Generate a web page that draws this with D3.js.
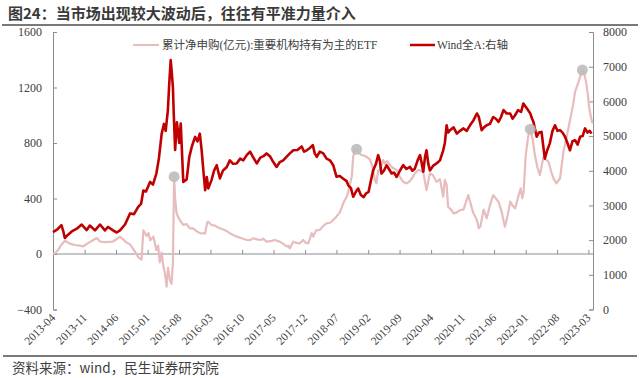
<!DOCTYPE html>
<html><head><meta charset="utf-8">
<script src="https://cdn.jsdelivr.net/npm/d3@7"></script>
<style>
html,body{margin:0;padding:0;background:#fff;}
svg{display:block;}
</style></head>
<body>
<svg id="chart" width="640" height="378"></svg>
<script>
const titleText = "图24：当市场出现较大波动后，往往有平准力量介入";
const sourceText = "资料来源：wind，民生证券研究院";
const seriesNames = ["累计净申购(亿元):重要机构持有为主的ETF", "Wind全A:右轴"];
const leftTicks = [-400, 0, 400, 800, 1200, 1600];
const rightTicks = [0, 1000, 2000, 3000, 4000, 5000, 6000, 7000, 8000];
const xTickLabels = ["2013-04","2013-11","2014-06","2015-01","2015-08","2016-03","2016-10","2017-05","2017-12","2018-07","2019-02","2019-09","2020-04","2020-11","2021-06","2022-01","2022-08","2023-03"];
const markerDates = ["2015-06-29","2018-11-14","2022-02-01","2023-01-19"];

// 累计净申购(亿元) — left axis
const etfSeries = [
["2013-04-01",0],["2013-04-20",10],["2013-05-06",30],["2013-05-24",60],["2013-06-20",95],["2013-07-24",75],["2013-08-27",65],["2013-10-01",60],["2013-10-22",55],["2013-11-18",75],["2013-12-21",95],
["2014-01-22",115],["2014-02-13",90],["2014-03-18",85],["2014-04-21",88],["2014-05-12",90],["2014-06-15",115],["2014-06-28",125],["2014-07-25",100],["2014-08-12",82],["2014-09-04",70],["2014-10-07",17],["2014-10-28",-20],["2014-11-10",-35],["2014-11-21",-40],["2014-12-03",170],["2014-12-25",130],
["2015-01-07",150],["2015-01-18",100],["2015-02-09",125],["2015-02-21",70],["2015-03-01",29],["2015-03-13",60],["2015-03-24",-60],["2015-04-06",10],["2015-04-16",-80],["2015-04-28",-140],["2015-05-09",-235],["2015-05-19",-100],["2015-06-01",-190],["2015-06-12",-215],["2015-06-21",-60],["2015-06-29",557],["2015-07-06",400],["2015-07-16",293],["2015-07-25",270],["2015-08-06",245],["2015-08-30",210],["2015-09-22",215],["2015-10-13",185],["2015-11-05",185],["2015-11-28",165],["2015-12-20",150],
["2016-01-25",149],["2016-02-07",225],["2016-02-15",233],["2016-03-08",209],["2016-04-01",205],["2016-04-22",190],["2016-05-18",180],["2016-06-18",165],["2016-07-10",150],["2016-08-02",137],["2016-08-27",125],["2016-09-28",113],["2016-11-01",101],["2016-11-24",100],["2016-12-16",113],
["2017-01-10",105],["2017-02-01",101],["2017-02-21",110],["2017-03-15",89],["2017-04-18",95],["2017-05-10",101],["2017-06-13",89],["2017-07-04",75],["2017-07-28",55],["2017-08-09",60],["2017-08-20",41],["2017-09-12",89],["2017-10-03",80],["2017-10-27",77],["2017-11-18",101],["2017-12-06",80],["2017-12-22",77],
["2018-01-15",150],["2018-01-25",125],["2018-02-13",170],["2018-03-10",173],["2018-04-01",200],["2018-04-25",221],["2018-05-18",225],["2018-06-09",245],["2018-07-01",269],["2018-07-24",300],["2018-08-16",365],["2018-09-08",413],["2018-09-19",450],["2018-10-13",560],["2018-10-22",700],["2018-11-03",750],["2018-11-14",755],["2018-11-25",740],["2018-12-13",715],
["2019-01-01",710],["2019-01-22",700],["2019-02-13",680],["2019-03-04",620],["2019-03-18",530],["2019-03-28",509],["2019-04-09",600],["2019-04-20",605],["2019-05-13",677],["2019-05-24",653],["2019-06-10",670],["2019-06-28",641],["2019-07-18",620],["2019-08-12",605],["2019-09-03",557],["2019-09-25",520],["2019-10-18",509],["2019-11-04",520],["2019-11-21",540],["2019-12-13",580],
["2020-01-06",605],["2020-01-24",600],["2020-02-08",590],["2020-03-01",461],["2020-03-24",581],["2020-04-13",570],["2020-05-08",520],["2020-05-31",540],["2020-06-22",413],["2020-07-03",535],["2020-07-15",500],["2020-07-25",341],["2020-08-14",320],["2020-08-31",293],["2020-09-22",300],["2020-10-14",317],["2020-11-06",320],["2020-11-28",390],["2020-12-09",425],["2020-12-20",380],
["2021-01-10",300],["2021-02-05",245],["2021-02-17",185],["2021-03-01",200],["2021-03-22",320],["2021-04-12",257],["2021-05-04",350],["2021-05-26",425],["2021-06-13",400],["2021-07-01",377],["2021-07-22",305],["2021-08-13",197],["2021-09-01",280],["2021-09-18",377],["2021-10-04",350],["2021-10-21",329],["2021-11-08",400],["2021-11-28",473],["2021-12-09",401],["2021-12-18",450],
["2022-01-01",713],["2022-01-19",857],["2022-02-01",900],["2022-02-18",820],["2022-03-04",713],["2022-03-22",620],["2022-04-07",569],["2022-04-30",695],["2022-05-18",680],["2022-06-04",665],["2022-06-21",600],["2022-07-07",545],["2022-07-28",509],["2022-08-21",545],["2022-09-13",737],["2022-10-06",850],["2022-10-27",960],["2022-11-18",1080],["2022-12-01",1170],["2022-12-13",1206],["2022-12-25",1242],
["2023-01-07",1290],["2023-01-19",1326],["2023-02-01",1300],["2023-02-13",1240],["2023-02-25",1150],["2023-03-07",1050],["2023-03-19",980],["2023-03-28",940]
];

// Wind全A — right axis
const windSeries = [
["2013-04-01",2230],["2013-04-28",2300],["2013-05-28",2430],["2013-06-10",2250],["2013-06-20",2060],["2013-07-10",2150],["2013-08-06",2250],["2013-09-09",2330],["2013-10-12",2450],["2013-11-15",2290],["2013-12-06",2420],
["2014-01-10",2280],["2014-02-13",2450],["2014-03-18",2280],["2014-04-09",2380],["2014-05-12",2280],["2014-06-06",2220],["2014-06-28",2280],["2014-08-01",2450],["2014-09-04",2770],["2014-10-01",2750],["2014-10-28",2950],["2014-11-18",3050],["2014-12-03",3430],["2014-12-21",3400],
["2015-01-18",3680],["2015-02-06",3600],["2015-03-01",3920],["2015-03-18",4350],["2015-04-06",5070],["2015-04-21",5350],["2015-05-03",5150],["2015-05-18",5750],["2015-05-27",6500],["2015-06-06",7190],["2015-06-12",6900],["2015-06-21",6400],["2015-06-27",5600],["2015-07-06",4600],["2015-07-18",5400],["2015-08-03",4800],["2015-08-13",5360],["2015-08-30",3680],["2015-09-22",3750],["2015-10-10",4400],["2015-10-27",4700],["2015-11-18",4976],["2015-12-04",4850],["2015-12-20",5070],
["2016-01-01",4600],["2016-01-13",4000],["2016-01-25",3440],["2016-02-05",3820],["2016-02-15",3490],["2016-03-08",3730],["2016-03-25",4000],["2016-04-12",4160],["2016-05-04",3780],["2016-05-25",4010],["2016-06-18",4100],["2016-07-10",4300],["2016-08-01",4200],["2016-08-25",4210],["2016-09-18",4350],["2016-10-09",4300],["2016-11-01",4450],["2016-11-24",4550],["2016-12-13",4400],
["2017-01-08",4210],["2017-02-01",4380],["2017-02-22",4420],["2017-03-15",4500],["2017-04-07",4420],["2017-04-30",4250],["2017-05-22",4110],["2017-06-13",4250],["2017-07-06",4300],["2017-07-28",4400],["2017-08-20",4500],["2017-09-12",4590],["2017-10-10",4600],["2017-11-08",4700],["2017-11-24",4550],["2017-12-12",4590],
["2018-01-01",4650],["2018-01-22",4740],["2018-02-04",4500],["2018-02-18",4400],["2018-03-10",4550],["2018-04-03",4500],["2018-04-25",4350],["2018-05-18",4300],["2018-06-09",4160],["2018-07-01",3830],["2018-07-24",3850],["2018-08-16",3770],["2018-09-08",3700],["2018-09-19",3580],["2018-10-07",3500],["2018-10-22",3250],["2018-11-10",3400],["2018-11-25",3490],["2018-12-13",3300],
["2019-01-01",3240],["2019-01-18",3350],["2019-02-03",3390],["2019-02-18",3700],["2019-03-06",4010],["2019-03-25",4200],["2019-04-09",4450],["2019-04-20",4300],["2019-05-01",3920],["2019-05-18",4000],["2019-06-05",4160],["2019-06-21",4050],["2019-07-09",3920],["2019-07-25",3950],["2019-08-12",3820],["2019-09-03",4000],["2019-09-25",4160],["2019-10-18",4050],["2019-11-10",4110],["2019-11-27",4000],["2019-12-13",4060],
["2020-01-01",4300],["2020-01-17",4450],["2020-01-27",4250],["2020-02-08",3970],["2020-02-20",4400],["2020-03-01",4590],["2020-03-13",4200],["2020-03-24",4010],["2020-04-16",4150],["2020-05-08",4210],["2020-05-31",4300],["2020-06-22",4590],["2020-07-03",4800],["2020-07-15",5310],["2020-07-25",5100],["2020-08-07",5170],["2020-08-31",5250],["2020-09-22",5070],["2020-10-14",5150],["2020-11-06",5220],["2020-11-28",5150],["2020-12-20",5310],
["2021-01-12",5450],["2021-02-05",5650],["2021-02-18",5550],["2021-03-09",5170],["2021-03-25",5250],["2021-04-12",5310],["2021-05-04",5350],["2021-05-26",5550],["2021-06-13",5500],["2021-07-01",5410],["2021-07-18",5550],["2021-08-04",5750],["2021-08-26",5650],["2021-09-18",5650],["2021-10-04",5500],["2021-10-21",5600],["2021-11-10",5750],["2021-12-01",5700],["2021-12-16",5940],
["2022-01-08",5800],["2022-02-01",5650],["2022-02-13",5500],["2022-02-22",5410],["2022-03-16",4980],["2022-03-31",5100],["2022-04-18",5120],["2022-04-30",4700],["2022-05-10",4350],["2022-05-27",4600],["2022-06-13",4790],["2022-07-01",5150],["2022-07-18",5310],["2022-08-04",5150],["2022-08-21",5170],["2022-09-07",5100],["2022-09-24",4980],["2022-10-10",4800],["2022-10-27",4590],["2022-11-13",4850],["2022-12-01",4880],["2022-12-18",4750],
["2023-01-04",4980],["2023-01-21",5000],["2023-02-06",5220],["2023-02-23",5100],["2023-03-10",5150],["2023-03-22",5070]
];

const parse = d3.timeParse("%Y-%m-%d");
const parseMonth = d3.timeParse("%Y-%m");
const etf = etfSeries.map(d => ({date: parse(d[0]), value: d[1]}));
const wind = windSeries.map(d => ({date: parse(d[0]), value: d[1]}));

const svg = d3.select("#chart");
const L = 53, R = 593, T = 32, B = 309.5;

const x = d3.scaleTime().domain([parse("2013-04-01"), parse("2023-04-01")]).range([L, R]);
const yL = d3.scaleLinear().domain([-400, 1600]).range([B, T]);
const yR = d3.scaleLinear().domain([0, 8000]).range([B, T]);

const axisColor = "#8c8c8c";
const textColor = "#404040";
const serif = "'Liberation Serif','Times New Roman','Noto Sans CJK SC',serif";
const sans = "'Noto Sans CJK SC','Microsoft YaHei',sans-serif";

// Title
svg.append("text").attr("x", 8).attr("y", 19)
  .attr("font-family", sans).attr("font-weight", "bold").attr("font-size", 15)
  .attr("fill", "#3a3a3a").text(titleText);
svg.append("line").attr("x1", 2).attr("x2", 638).attr("y1", 25).attr("y2", 25)
  .attr("stroke", "#4d4d4d").attr("stroke-width", 1.5);

// Left axis
const gL = svg.append("g").attr("transform", `translate(${L},0)`)
  .call(d3.axisRight(yL).tickValues(leftTicks).tickSize(4).tickFormat(d3.format("d")));
gL.select(".domain").attr("stroke", axisColor);
gL.selectAll(".tick line").attr("stroke", axisColor);
gL.selectAll(".tick text").attr("x", -11).attr("text-anchor", "end")
  .attr("font-family", serif).attr("font-size", 12).attr("fill", textColor);

// Right axis
const gR = svg.append("g").attr("transform", `translate(${R},0)`)
  .call(d3.axisLeft(yR).tickValues(rightTicks).tickSize(4).tickFormat(d3.format("d")));
gR.select(".domain").attr("stroke", axisColor);
gR.selectAll(".tick line").attr("stroke", axisColor);
gR.selectAll(".tick text").attr("x", 10).attr("text-anchor", "start")
  .attr("font-family", serif).attr("font-size", 12).attr("fill", textColor);

// Zero line (category axis) with inward ticks
const tickDates = xTickLabels.map(parseMonth);
const gX = svg.append("g").attr("transform", `translate(0,${yL(0)})`)
  .call(d3.axisTop(x).tickValues(tickDates).tickSize(4).tickFormat(""));
gX.select(".domain").attr("stroke", axisColor).attr("d", `M${L},0H${R}`);
gX.selectAll(".tick line").attr("stroke", axisColor);

// X tick labels at bottom, rotated
svg.append("g").selectAll("text").data(tickDates).join("text")
  .attr("transform", (d) => `translate(${x(d) + 3},${B + 9}) rotate(-45)`)
  .attr("text-anchor", "end")
  .attr("font-family", serif).attr("font-size", 11.5).attr("fill", textColor)
  .text((d, i) => xTickLabels[i]);

// Lines
const lineL = d3.line().x(d => x(d.date)).y(d => yL(d.value));
const lineR = d3.line().x(d => x(d.date)).y(d => yR(d.value));
const pink = "#e8bcbc", red = "#c00000";

svg.append("path").datum(etf).attr("d", lineL).attr("fill", "none")
  .attr("stroke", pink).attr("stroke-width", 2.2).attr("stroke-linejoin", "round");
svg.append("path").datum(wind).attr("d", lineR).attr("fill", "none")
  .attr("stroke", red).attr("stroke-width", 2.6).attr("stroke-linejoin", "round");

// Highlight markers on ETF series
const markers = markerDates.map(s => {
  const t = +parse(s);
  return etf.find(d => +d.date === t);
});
svg.append("g").selectAll("circle").data(markers).join("circle")
  .attr("cx", d => x(d.date)).attr("cy", d => yL(d.value)).attr("r", 5.5)
  .attr("fill", "#bdbdbd").attr("fill-opacity", 0.9);

// Legend
const lg = svg.append("g");
lg.append("line").attr("x1", 133).attr("x2", 159).attr("y1", 45).attr("y2", 45)
  .attr("stroke", pink).attr("stroke-width", 2);
lg.append("text").attr("x", 162).attr("y", 49).attr("font-family", serif)
  .attr("font-size", 11.5).attr("fill", textColor).text(seriesNames[0]);
lg.append("line").attr("x1", 410).attr("x2", 435).attr("y1", 45).attr("y2", 45)
  .attr("stroke", red).attr("stroke-width", 2.5);
lg.append("text").attr("x", 437).attr("y", 49).attr("font-family", serif)
  .attr("font-size", 11.5).attr("fill", textColor).text(seriesNames[1]);

// Footer
svg.append("line").attr("x1", 3).attr("x2", 637).attr("y1", 356).attr("y2", 356)
  .attr("stroke", "#4d4d4d").attr("stroke-width", 1.5);
svg.append("text").attr("x", 12).attr("y", 373).attr("font-family", sans)
  .attr("font-size", 13.5).attr("fill", "#404040").text(sourceText);
</script>
</body></html>
